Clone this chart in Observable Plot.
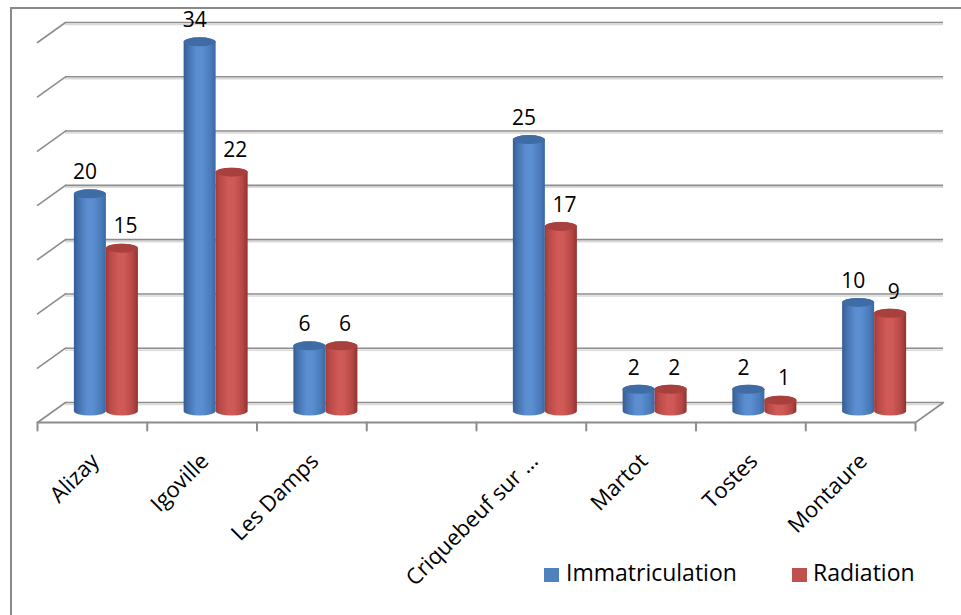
<!DOCTYPE html>
<html>
<head>
<meta charset="utf-8">
<script src="https://cdn.jsdelivr.net/npm/d3@7"></script>
<script src="https://cdn.jsdelivr.net/npm/@observablehq/plot@0.6"></script>
<style>
  html, body { margin: 0; padding: 0; background: #fff; overflow: hidden; }
  #wrap { position: relative; width: 961px; height: 615px; font-family: "Open Sans", sans-serif; }
  #frame { position: absolute; left: 10px; top: 7px; width: 1000px; height: 700px;
           border-left: 2px solid #8a8a8a; border-top: 2px solid #8a8a8a; pointer-events: none; z-index: 5; }
  #legend { position: relative; height: 55px; }
  .sw { position: absolute; width: 15px; height: 14px; top: 8px; }
  .lt { position: absolute; top: 1px; font-size: 23px; line-height: 23px; color: #000; white-space: nowrap; }
</style>
</head>
<body>
<div id="wrap">
  <div id="chart"></div>
  <div id="legend"></div>
  <div id="frame"></div>
</div>
<script>
// ---- data ----
const categories = ["Alizay", "Igoville", "Les Damps", "", "Criquebeuf sur …", "Martot", "Tostes", "Montaure"];
const immatriculation = [20, 34, 6, null, 25, 2, 2, 10];
const radiation = [15, 22, 6, null, 17, 2, 1, 9];
const seriesNames = ["Immatriculation", "Radiation"];
const yTicks = [0, 5, 10, 15, 20, 25, 30, 35];

const seriesValues = [immatriculation, radiation];
const rows = [];
seriesNames.forEach((s, si) => {
  categories.forEach((c, i) => {
    const v = seriesValues[si][i];
    if (v != null) rows.push({category: c, i, series: s, value: v});
  });
});
const catRows = categories.map((c, i) => ({category: c, i}));
const boundaries = d3.range(categories.length + 1);

// ---- styling constants ----
const gray = "#8c8c8c";
const depthDx = 28, depthDy = -20;            // 3D depth of the box
const depthLen = Math.hypot(depthDx, depthDy);
const depthAngle = Math.atan2(depthDx, -depthDy) * 180 / Math.PI;
const barDx = 14, barDy = -11;                 // bars sit in the middle plane
const band = (915 - 37) / categories.length;
const barW = 32;
const ry = 4.5;

function cylinder(series, insetLeft, insetRight, grad, cap) {
  const data = rows.filter(d => d.series === series);
  return [
    Plot.rect(data, {
      x1: d => d.i, x2: d => d.i + 1, y1: () => 0, y2: d => d.value,
      insetLeft, insetRight, insetTop: -ry, insetBottom: -ry,
      rx: barW / 2, ry, dx: barDx, dy: barDy, fill: grad
    }),
    Plot.rect(data, {
      x1: d => d.i, x2: d => d.i + 1, y1: d => d.value, y2: d => d.value,
      insetLeft, insetRight, insetTop: -ry, insetBottom: -ry,
      rx: barW / 2, ry, dx: barDx, dy: barDy, fill: cap
    })
  ];
}

const half = band / 2;
const chart = Plot.plot({
  width: 961,
  height: 560,
  marginLeft: 37,
  marginRight: 46,
  marginTop: 42,
  marginBottom: 138,
  style: {fontFamily: "Open Sans, sans-serif", fontSize: "21px", color: "#000", background: "transparent", overflow: "visible"},
  x: {domain: [0, categories.length], axis: null},
  y: {domain: [0, 35], axis: null},
  marks: [
    // back wall gridlines (with a light shadow)
    Plot.ruleY(yTicks, {dx: depthDx, dy: depthDy + 2, stroke: "#d9d9d9", strokeWidth: 1.5}),
    Plot.ruleY(yTicks, {dx: depthDx, dy: depthDy, stroke: gray, strokeWidth: 1.6}),
    // side wall diagonals
    Plot.vector(yTicks, {x: () => 0, y: d => d, length: depthLen, rotate: depthAngle, anchor: "start", r: 0, stroke: gray, strokeWidth: 1.6}),
    // floor right edge
    Plot.vector([0], {x: () => categories.length, y: () => 0, length: depthLen, rotate: depthAngle, anchor: "start", r: 0, stroke: gray, strokeWidth: 1.6}),
    // floor front edge
    Plot.ruleY([0], {stroke: gray, strokeWidth: 2}),
    // category ticks
    Plot.vector(boundaries, {x: d => d, y: () => 0, length: 8, rotate: 180, anchor: "start", r: 0, stroke: gray, strokeWidth: 2}),
    // cylinders
    ...cylinder("Immatriculation", half - barW, half, "url(#gBlue)", "#3f6ca5"),
    ...cylinder("Radiation", half, half - barW, "url(#gRed)", "#a8413e"),
    // value labels
    Plot.text(rows.filter(d => d.series === "Immatriculation"), {
      x: d => d.i + 0.5, y: d => d.value, text: d => String(d.value),
      dx: -7.5, dy: barDy - 22, fontSize: 21, fill: "#000"
    }),
    Plot.text(rows.filter(d => d.series === "Radiation"), {
      x: d => d.i + 0.5, y: d => d.value, text: d => String(d.value),
      dx: 33, dy: barDy - 22, fontSize: 21, fill: "#000"
    }),
    // category labels
    Plot.text(catRows, {
      x: d => d.i + 0.5, y: () => 0, text: "category",
      rotate: -45, textAnchor: "end", dx: 3, dy: 35, fontSize: 22, fill: "#000"
    })
  ]
});

// gradients for cylinder shading
const svg = d3.select(chart);
const defs = svg.insert("defs", ":first-child");
function grad(id, stops) {
  const g = defs.append("linearGradient").attr("id", id).attr("x1", "0%").attr("x2", "100%").attr("y1", "0%").attr("y2", "0%");
  stops.forEach(([o, c]) => g.append("stop").attr("offset", o).attr("stop-color", c));
}
grad("gBlue", [["0%", "#335c92"], ["12%", "#426fab"], ["40%", "#5a8ed0"], ["58%", "#5b8fd1"], ["85%", "#4a7bbb"], ["100%", "#3c67a0"]]);
grad("gRed", [["0%", "#9c3b38"], ["12%", "#b84946"], ["40%", "#d05a57"], ["58%", "#cf5956"], ["85%", "#b44644"], ["100%", "#8e322f"]]);

document.getElementById("chart").appendChild(chart);

// legend
const legend = d3.select("#legend");
const legendItems = [
  {name: seriesNames[0], color: "#4f81bd", sw: 544, tx: 566},
  {name: seriesNames[1], color: "#c0504d", sw: 792, tx: 813}
];
legendItems.forEach(it => {
  legend.append("div").attr("class", "sw").style("left", it.sw + "px").style("background", it.color);
  legend.append("div").attr("class", "lt").style("left", it.tx + "px").text(it.name);
});
</script>
</body>
</html>
